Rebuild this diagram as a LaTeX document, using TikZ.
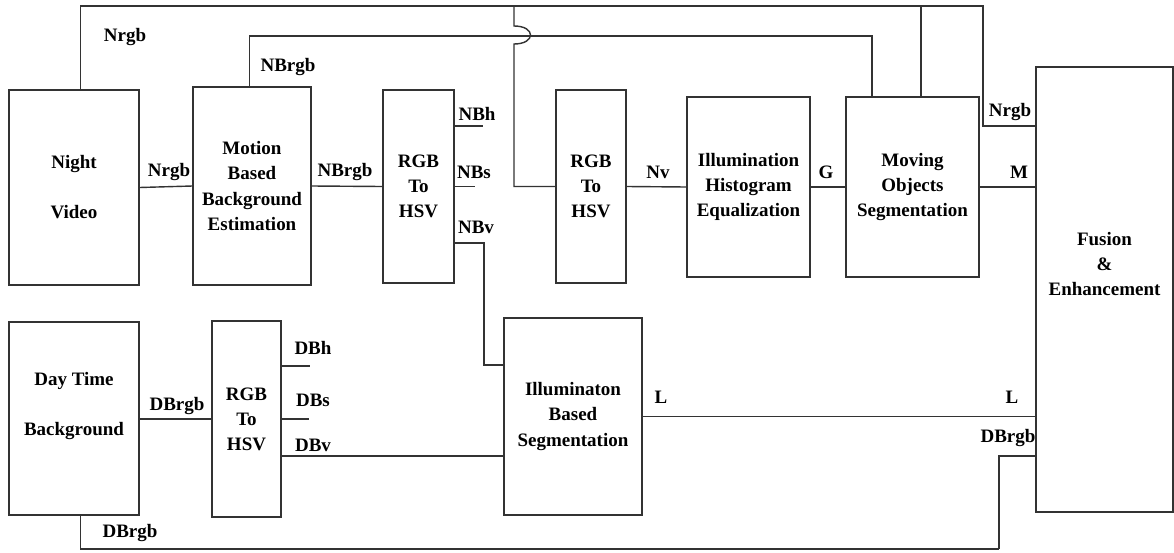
\documentclass[tikz,border=0pt]{standalone}
\usepackage{fontspec}
\setmainfont{Liberation Serif}
\newcommand{\blockfont}{\bfseries\fontsize{13.5}{17.8}\selectfont}
\begin{document}
\begin{tikzpicture}[x=0.025cm, y=-0.025cm,%
% common options for blocks:
block/.style = {draw=black!80, line width=1pt, align=center, inner sep=0, font=\blockfont},
% common options for the signal names:
sig/.style = {inner sep=0, font=\blockfont},
% common options for the lines:
wire/.style = {draw=black!80, line width=1pt}]
\useasboundingbox (0,0) rectangle (1174,552);
\node[block, minimum width=3.25cm, minimum height=4.875cm] (nv) at (74,187.5) {Night\\[\baselineskip]Video};
\node[block, minimum width=2.95cm, minimum height=4.95cm] (mbe) at (252,186) {Motion\\Based\\Background\\Estimation};
\node[block, minimum width=1.775cm, minimum height=4.825cm] (hsv1) at (418.5,186.5) {RGB\\To\\HSV};
\node[block, minimum width=1.75cm, minimum height=4.825cm] (hsv2) at (591,186.5) {RGB\\To\\HSV};
\node[block, minimum width=3.075cm, minimum height=4.5cm] (ihe) at (748.5,187) {Illumination\\Histogram\\Equalization};
\node[block, minimum width=3.325cm, minimum height=4.5cm] (mos) at (912.5,187) {Moving\\Objects\\Segmentation};
\node[block, minimum width=3.425cm, minimum height=11.125cm] (fus) at (1104.5,289.5) {};
\node[sig, align=center] (fus-txt) at (1104.5,264) {Fusion\\\&\\Enhancement};
\node[block, minimum width=3.25cm, minimum height=4.825cm] (dtb) at (74,418.5) {};
\node[sig, align=center] (dtb-txt) at (74,406) {Day Time\\[\baselineskip]Background};
\node[block, minimum width=1.725cm, minimum height=4.9cm] (hsv3) at (246.5,419) {RGB\\To\\HSV};
\node[block, minimum width=3.45cm, minimum height=4.925cm] (ibs) at (573,416.5) {Illuminaton\\Based\\Segmentation};
% free ends and bends
\coordinate (t1) at (80.4,6);
\coordinate (t2) at (983,6);
\coordinate (t3) at (983,126);
\coordinate (t4) at (921,6);
\coordinate (t5) at (514,6);
\coordinate (j1) at (514,26);
\coordinate (j2) at (514,44);
\coordinate (s1) at (249.5,36);
\coordinate (s2) at (872,36);
\coordinate (nbh) at (483,126);
\coordinate (nbs) at (474.5,186.5);
\coordinate (nbv) at (484,243);
\coordinate (nbvin) at (484,365);
\coordinate (dbh) at (310,366);
\coordinate (dbs) at (309,419);
\coordinate (dbv) at (504,456);
\coordinate (b1) at (80.4,549);
\coordinate (b2) at (999,549);
\coordinate (b3) at (999,456);
% night video path
\draw[wire] (nv.east) to (mbe.west);
\draw[wire] (mbe.east) to (hsv1.west);
\draw[wire] (t1 |- nv.north) -- (t1) -- (t2) -- (t3) -- (t3 -| fus.west);
\draw[wire] (t4) -- (t4 |- mos.north);
\draw[wire] (t5) -- (j1) .. controls (536,26) and (536,44) .. (j2) -- (t5 |- hsv2.west) -- (hsv2.west);
\draw[wire] (s1 |- mbe.north) -- (s1) -- (s2) -- (s2 |- mos.north);
\draw[wire] (nbh -| hsv1.east) -- (nbh);
\draw[wire] (hsv1.east) -- (nbs);
\draw[wire] (nbv -| hsv1.east) -- (nbv) -- (nbvin) -- (nbvin -| ibs.west);
\draw[wire] (hsv2.east) to (ihe.west);
\draw[wire] (ihe.east) to (mos.west);
\draw[wire] (mos.east) to (mos.east -| fus.west);
% day time path
\draw[wire] (dtb.east |- dbs) to (hsv3.west |- dbs);
\draw[wire] (dbh -| hsv3.east) -- (dbh);
\draw[wire] (dbs -| hsv3.east) -- (dbs);
\draw[wire] (dbv -| hsv3.east) -- (dbv -| ibs.west);
\draw[wire] (ibs.east) to (ibs.east -| fus.west);
\draw[wire] (b1 |- dtb.south) -- (b1);
\draw[wire, line width=1.8pt] (b1) -- (b2);
\draw[wire] (b2) -- (b3) -- (b3 -| fus.west);
% signal names
\node[sig] (l-nrgb1) at (125,37) {Nrgb};
\node[sig] (l-nbrgb1) at (288,67) {NBrgb};
\node[sig] (l-nrgb2) at (169,172) {Nrgb};
\node[sig] (l-nbrgb2) at (345,172) {NBrgb};
\node[sig] (l-nbh) at (477,114) {NBh};
\node[sig] (l-nbs) at (474,172) {NBs};
\node[sig] (l-nbv) at (476,227) {NBv};
\node[sig] (l-nv) at (658,172) {Nv};
\node[sig] (l-g) at (826,172) {G};
\node[sig] (l-m) at (1019,172) {M};
\node[sig] (l-nrgb3) at (1010,112) {Nrgb};
\node[sig] (l-dbh) at (313,348) {DBh};
\node[sig] (l-dbs) at (313,400) {DBs};
\node[sig] (l-dbv) at (313,445) {DBv};
\node[sig] (l-dbrgb1) at (177,406) {DBrgb};
\node[sig] (l-dbrgb2) at (130,533) {DBrgb};
\node[sig] (l-l1) at (661,397) {L};
\node[sig] (l-l2) at (1012,397) {L};
\node[sig] (l-dbrgb3) at (1008,438) {DBrgb};
\end{tikzpicture}
\end{document}
